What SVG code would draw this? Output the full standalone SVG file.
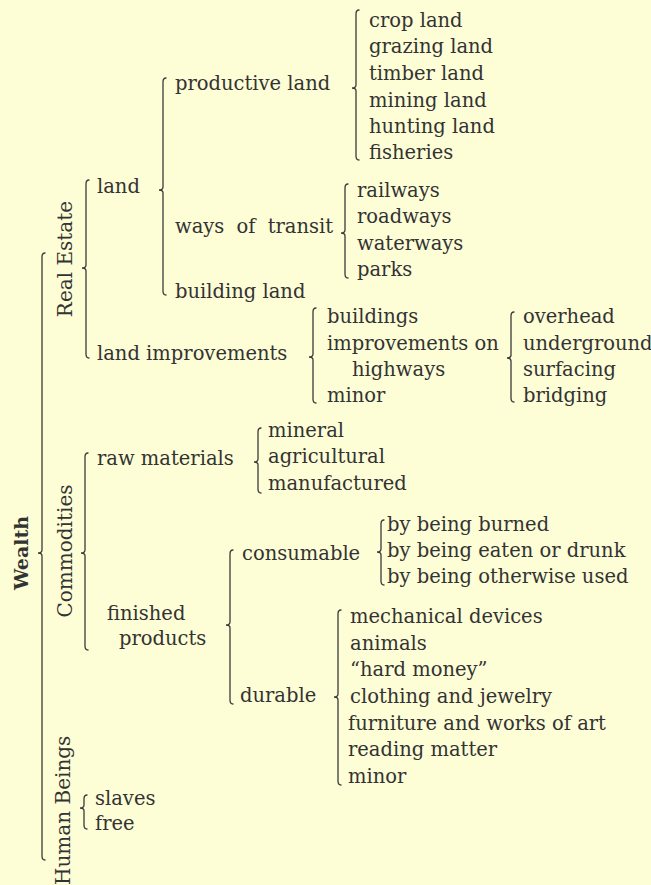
<svg xmlns="http://www.w3.org/2000/svg" width="651" height="885" viewBox="0 0 651 885">
<style>
text{font-family:"DejaVu Serif","Liberation Serif",serif;font-size:19.5px;fill:#333}
.v{font-size:20px}
.b{font-weight:bold;font-size:19px}
.br{fill:none;stroke:#3a3a3a;stroke-width:1.3;stroke-linecap:round}
</style>
<rect width="651" height="885" fill="#fdfdd6"/>
<g id="connectors">
<path class="br" d="M45,253 Q42,253 42,257 L42,550 Q42,553 38,553 Q42,553 42,556 L42,856 Q42,860 45,860"/>
<path class="br" d="M89,180 Q86,180 86,184 L86,265 Q86,268 82,268 Q86,268 86,271 L86,354 Q86,358 89,358"/>
<path class="br" d="M166,78 Q163,78 163,82 L163,187 Q163,190 159,190 Q163,190 163,193 L163,291 Q163,295 166,295"/>
<path class="br" d="M359,10 Q356,10 356,14 L356,85 Q356,88 352,88 Q356,88 356,91 L356,156 Q356,160 359,160"/>
<path class="br" d="M348,184 Q345,184 345,188 L345,230 Q345,233 341,233 Q345,233 345,236 L345,274 Q345,278 348,278"/>
<path class="br" d="M316,308 Q313,308 313,312 L313,354 Q313,357 309,357 Q313,357 313,360 L313,399 Q313,403 316,403"/>
<path class="br" d="M514,312 Q511,312 511,316 L511,355 Q511,358 507,358 Q511,358 511,361 L511,398 Q511,402 514,402"/>
<path class="br" d="M261,428 Q258,428 258,432 L258,459 Q258,462 254,462 Q258,462 258,465 L258,489 Q258,493 261,493"/>
<path class="br" d="M88,453 Q85,453 85,457 L85,550 Q85,553 81,553 Q85,553 85,556 L85,646 Q85,650 88,650"/>
<path class="br" d="M233,550 Q230,550 230,554 L230,622 Q230,625 226,625 Q230,625 230,628 L230,700 Q230,704 233,704"/>
<path class="br" d="M384,520 Q381,520 381,524 L381,549 Q381,552 377,552 Q381,552 381,555 L381,581 Q381,585 384,585"/>
<path class="br" d="M341,610 Q338,610 338,614 L338,694 Q338,697 334,697 Q338,697 338,700 L338,781 Q338,785 341,785"/>
<path class="br" d="M87,795 Q84,795 84,799 L84,805 Q84,808 80,808 Q84,808 84,811 L84,825 Q84,829 87,829"/>
</g>
<g id="wealth"><text class="b" transform="translate(28,553) rotate(-90)" text-anchor="middle">Wealth</text></g>
<g id="real-estate"><text class="v" transform="translate(72,259) rotate(-90)" text-anchor="middle">Real Estate</text></g>
<g id="commodities"><text class="v" transform="translate(72,551) rotate(-90)" text-anchor="middle">Commodities</text></g>
<g id="human-beings"><text class="v" transform="translate(70,885) rotate(-90)">Human Beings</text></g>
<g id="land"><text x="97" y="193">land</text></g>
<g id="land-improvements"><text x="97" y="360">land improvements</text></g>
<g id="productive-land"><text x="175" y="90">productive land</text></g>
<g id="ways-of-transit"><text x="175" y="233" word-spacing="6">ways of transit</text></g>
<g id="building-land"><text x="175" y="298">building land</text></g>
<g id="productive-items">
<text x="369" y="27">crop land</text>
<text x="369" y="53">grazing land</text>
<text x="369" y="80">timber land</text>
<text x="369" y="107">mining land</text>
<text x="369" y="133">hunting land</text>
<text x="369" y="159">fisheries</text>
</g>
<g id="transit-items">
<text x="357" y="197">railways</text>
<text x="357" y="223">roadways</text>
<text x="357" y="250">waterways</text>
<text x="357" y="276">parks</text>
</g>
<g id="improvement-items">
<text x="327" y="323">buildings</text>
<text x="327" y="350">improvements on</text>
<text x="352" y="376">highways</text>
<text x="327" y="402">minor</text>
</g>
<g id="highway-items">
<text x="523" y="323">overhead</text>
<text x="523" y="350">underground</text>
<text x="523" y="376">surfacing</text>
<text x="523" y="402">bridging</text>
</g>
<g id="raw-materials"><text x="97" y="465">raw materials</text></g>
<g id="raw-items">
<text x="268" y="437">mineral</text>
<text x="268" y="463">agricultural</text>
<text x="268" y="490">manufactured</text>
</g>
<g id="finished-products"><text x="107" y="620">finished</text><text x="119" y="645">products</text></g>
<g id="consumable"><text x="242" y="560">consumable</text></g>
<g id="consumable-items">
<text x="387" y="531">by being burned</text>
<text x="387" y="557">by being eaten or drunk</text>
<text x="387" y="583">by being otherwise used</text>
</g>
<g id="durable"><text x="240" y="702">durable</text></g>
<g id="durable-items">
<text x="350" y="623">mechanical devices</text>
<text x="350" y="650">animals</text>
<text x="350" y="676">“hard money”</text>
<text x="350" y="703">clothing and jewelry</text>
<text x="348" y="730">furniture and works of art</text>
<text x="348" y="756">reading matter</text>
<text x="348" y="783">minor</text>
</g>
<g id="human-items">
<text x="95" y="805">slaves</text>
<text x="95" y="830">free</text>
</g>
</svg>
